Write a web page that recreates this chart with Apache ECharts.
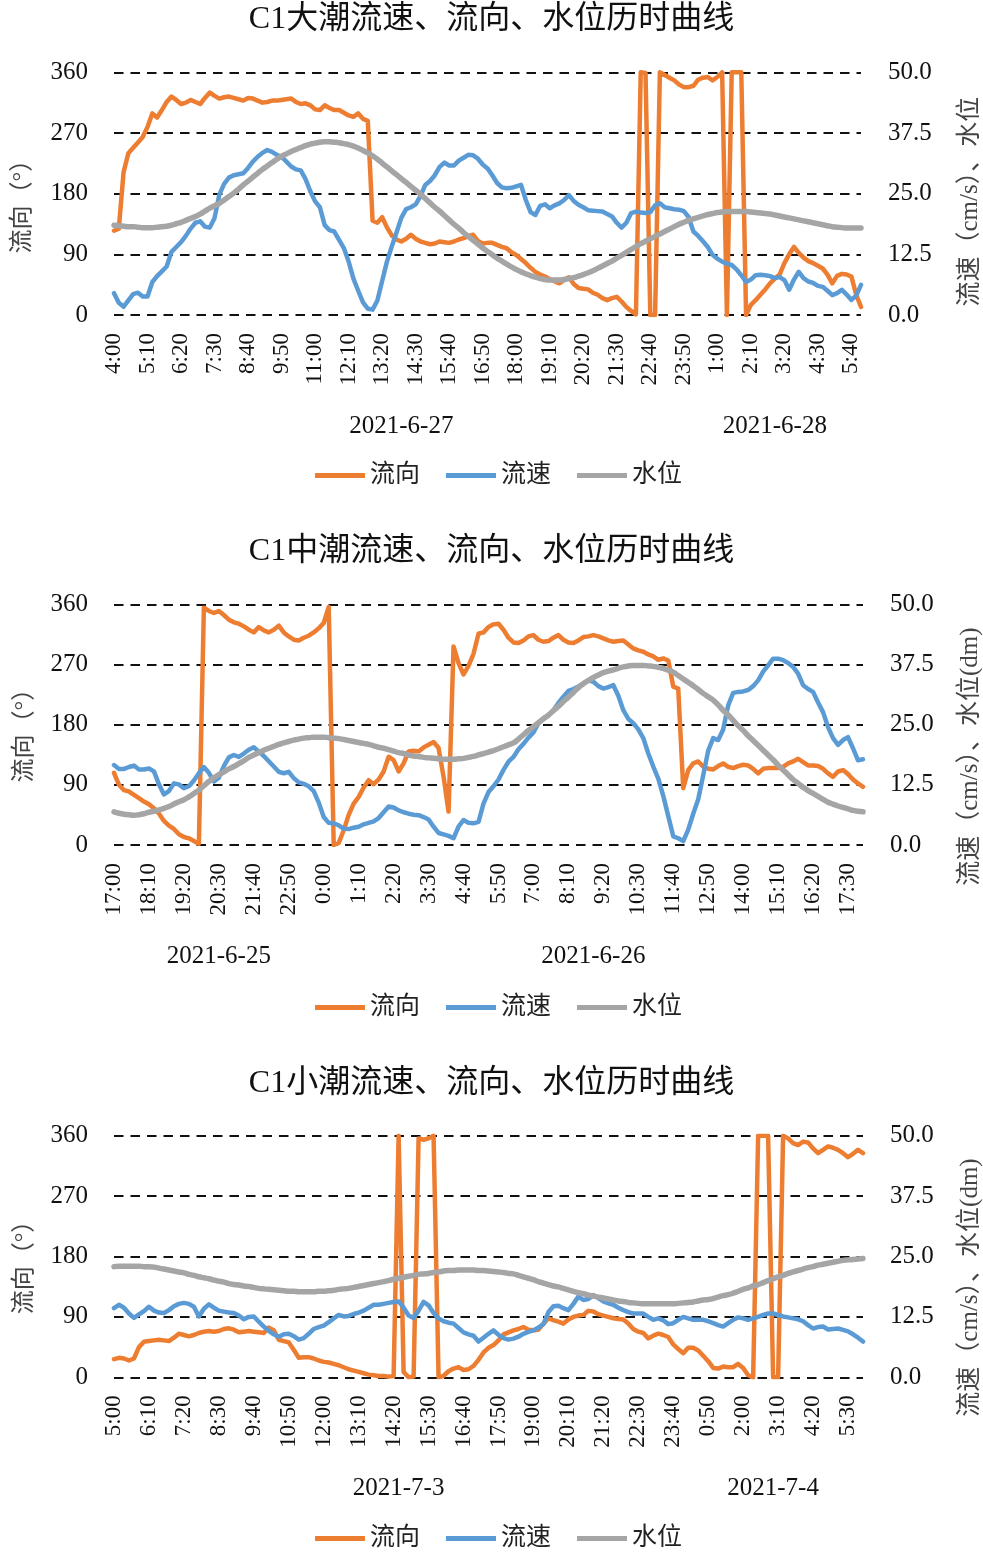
<!DOCTYPE html>
<html><head><meta charset="utf-8">
<script src="https://cdn.jsdelivr.net/npm/echarts@6/dist/echarts.min.js"></script>
<style>html,body{margin:0;padding:0;background:#fff}#c{width:983px;height:1552px}</style>
</head><body><div id="c"></div>
<script>
// ---------- categories ----------
function makeTimes(h, m, n) {
  const a = []; let t = h * 60 + m;
  for (let i = 0; i < n; i++) { const d = t % 1440; a.push(Math.floor(d / 60) + ':' + String(d % 60).padStart(2, '0')); t += 10; }
  return a;
}
const times1 = makeTimes(4, 0, 157);
const times2 = makeTimes(17, 0, 151);
const times3 = makeTimes(5, 0, 151);
const dates1 = ['2021-6-27', '2021-6-28'];
const dates2 = ['2021-6-25', '2021-6-26'];
const dates3 = ['2021-7-3', '2021-7-4'];
const leftTicks = [0, 90, 180, 270, 360];
const rightTicks = [0, 12.5, 25, 37.5, 50];

// ---------- chart 1: 大潮 ----------
const dir1 = [125,128,212,240,248,256,264,279,299,293,304,316,324,319,313,315,319,316,313,322,
330,325,321,323,324,322,320,318,322,321,318,315,316,318,318,319,320,321,316,313,
314,311,305,304,311,307,304,304,300,296,294,299,291,288,140,137,145,130,118,112,
109,113,119,113,109,107,105,106,109,108,107,109,112,114,117,119,110,106,107,107,
104,101,99,93,89,83,77,70,64,60,57,53,50,47,52,56,46,40,39,38,
33,30,25,22,25,27,20,12,6,1,360,359,0,0,360,356,352,348,342,338,
338,340,349,352,353,348,353,360,0,360,360,360,0,15,22,30,38,47,54,60,
77,90,101,92,85,80,77,73,69,60,47,58,61,60,57,30,12];
const spd1 = [4.5,2.5,1.7,3.0,4.3,4.6,3.8,3.8,6.8,8.0,9.0,10.0,13.0,14.0,15.0,16.3,17.8,19.0,19.3,18.2,
18.0,20.0,24.8,27.0,28.3,28.8,29.0,29.2,30.3,31.6,32.6,33.4,34.0,33.6,33.0,32.6,31.6,30.6,30.0,29.8,
28.0,25.5,23.4,22.2,18.5,17.5,17.2,15.5,13.8,11.0,7.5,5.0,2.6,1.3,1.1,3.0,7.0,11.0,14.1,17.0,
20.0,21.8,22.2,22.8,24.5,26.8,27.6,28.8,30.5,31.4,30.8,30.8,31.8,32.4,33.0,32.9,32.2,31.0,30.2,28.8,
27.2,26.3,26.1,26.2,26.5,26.8,23.7,21.2,20.6,22.5,22.8,22.0,22.6,23.0,23.7,24.7,23.5,22.7,22.2,21.6,
21.5,21.4,21.3,20.8,20.3,19.0,18.0,19.0,21.0,21.3,21.1,21.0,21.2,22.6,23.0,22.2,22.0,21.8,21.7,21.4,
20.2,17.2,16.3,15.2,14.0,12.4,11.6,11.0,10.6,10.3,9.4,8.2,6.8,7.3,8.2,8.3,8.2,8.0,7.6,7.8,
7.2,5.2,7.3,8.9,7.6,6.9,6.6,6.0,5.8,5.0,4.1,4.5,5.2,4.2,3.1,4.0,6.2];
const lvl1 = [18.5,18.4,18.3,18.2,18.2,18.1,18.0,18.0,18.0,18.1,18.2,18.3,18.5,18.8,19.1,19.5,19.9,20.3,20.8,21.4,
22.0,22.5,23.0,23.7,24.4,25.1,25.9,26.8,27.6,28.4,29.2,30.0,30.7,31.4,32.1,32.7,33.2,33.7,34.1,34.5,
34.9,35.2,35.4,35.6,35.7,35.7,35.6,35.5,35.3,35.1,34.8,34.4,33.9,33.4,32.8,32.1,31.3,30.5,29.7,28.9,
28.1,27.3,26.5,25.7,24.9,24.0,23.1,22.2,21.4,20.5,19.6,18.7,17.9,17.0,16.2,15.4,14.6,13.8,13.1,12.4,
11.7,11.1,10.5,9.9,9.4,8.9,8.5,8.1,7.8,7.5,7.3,7.2,7.2,7.2,7.3,7.5,7.7,8.0,8.3,8.7,
9.1,9.6,10.1,10.6,11.1,11.7,12.3,12.9,13.5,14.1,14.7,15.2,15.7,16.2,16.7,17.2,17.7,18.2,18.7,19.1,
19.5,19.8,20.1,20.4,20.7,20.9,21.1,21.2,21.3,21.3,21.3,21.3,21.3,21.2,21.1,21.0,20.9,20.8,20.6,20.4,
20.2,20.0,19.8,19.6,19.4,19.2,19.0,18.8,18.6,18.4,18.2,18.1,18.0,17.9,17.9,17.9,17.9];

// ---------- chart 2: 中潮 ----------
const dir2 = [108,90,82,80,75,70,65,61,55,47,36,29,24,16,12,10,6,2,355,350,
347,350,344,337,333,331,327,322,318,326,321,318,322,328,318,312,307,306,310,313,
318,324,332,356,0,3,22,45,62,72,86,97,91,98,110,132,127,110,122,140,
141,140,146,150,154,145,102,50,297,272,255,268,286,316,318,326,330,331,322,310,
303,302,306,312,314,307,304,305,310,314,307,303,302,306,311,312,314,312,309,306,
304,305,306,300,294,291,289,285,282,277,279,276,237,234,85,112,122,125,117,114,
113,118,122,117,115,118,120,119,114,107,114,115,115,115,117,122,125,129,124,119,
119,118,114,107,102,110,112,106,98,92,87];
const spd2 = [16.6,15.8,15.8,16.2,16.5,15.7,15.7,15.9,15.3,12.6,10.5,11.2,12.8,12.6,11.8,12.2,13.4,14.9,16.2,15.0,
13.2,14.0,16.4,18.2,18.7,18.3,19.0,19.8,20.3,19.4,18.5,17.4,16.3,15.2,14.9,15.2,13.9,13.0,12.7,12.2,
11.2,8.8,5.8,4.6,4.5,4.1,3.4,3.3,3.6,3.8,4.3,4.6,4.9,5.6,6.8,8.0,7.8,7.2,6.8,6.5,
6.3,6.2,5.8,5.3,3.8,2.5,2.2,1.9,1.4,3.8,5.2,4.6,4.5,4.8,8.6,11.0,12.2,13.6,15.6,17.3,
18.3,19.9,21.0,22.3,23.4,25.3,26.3,26.9,28.0,29.5,30.8,32.0,32.4,32.9,33.6,34.2,33.9,33.0,32.5,32.8,
33.2,31.0,28.0,26.2,25.3,24.0,22.2,19.0,16.3,13.8,10.2,6.0,1.8,1.4,0.8,3.2,6.5,9.5,14.5,19.6,
22.2,21.8,24.0,29.0,31.6,31.8,31.9,32.2,33.0,34.2,36.0,37.3,38.7,38.7,38.4,37.8,37.0,35.6,33.2,32.4,
31.8,29.6,27.6,24.5,22.2,20.8,21.8,22.4,20.1,17.6,17.8];
const lvl2 = [6.9,6.6,6.4,6.3,6.2,6.3,6.5,6.8,7.0,7.3,7.6,8.0,8.5,9.0,9.4,10.0,10.7,11.4,12.3,13.2,
14.0,14.6,15.2,15.8,16.3,16.9,17.5,18.2,18.7,19.2,19.7,20.1,20.5,20.9,21.2,21.5,21.8,22.0,22.2,22.3,
22.4,22.4,22.4,22.3,22.2,22.1,21.9,21.7,21.5,21.3,21.1,20.9,20.6,20.3,20.1,19.8,19.5,19.2,19.0,18.7,
18.5,18.4,18.2,18.1,18.0,17.9,17.8,17.8,17.8,17.9,18.0,18.2,18.4,18.7,19.0,19.3,19.6,20.0,20.4,20.8,
21.2,22.0,22.9,23.8,24.6,25.4,26.2,27.0,27.9,28.8,29.8,30.7,31.7,32.7,33.5,34.2,34.8,35.3,35.8,36.1,
36.4,36.7,37.0,37.2,37.3,37.3,37.3,37.2,37.1,36.9,36.7,36.3,35.9,35.2,34.5,33.8,33.1,32.3,31.5,30.8,
30.1,29.1,28.0,27.0,25.9,24.8,23.8,22.7,21.7,20.7,19.7,18.7,17.7,16.6,15.6,14.6,13.6,12.8,12.0,11.3,
10.7,10.1,9.5,8.9,8.5,8.1,7.8,7.5,7.2,7.0,6.9];

// ---------- chart 3: 小潮 ----------
const dir3 = [27,29,28,25,28,45,53,54,55,56,55,54,59,65,63,61,63,66,68,69,
68,69,72,73,71,67,68,69,68,67,66,74,70,56,54,52,41,29,30,30,
28,25,23,22,20,18,15,12,10,8,6,4,3,2,2,1,2,360,8,0,
1,356,354,356,360,0,2,9,13,15,11,12,17,26,37,44,48,55,64,67,
70,72,75,71,70,71,80,88,85,83,80,86,90,92,93,99,98,94,92,90,
88,87,86,80,72,68,66,58,62,65,63,60,49,42,36,44,44,40,32,24,
14,13,16,15,15,20,14,3,0,360,360,360,0,0,360,356,349,346,351,350,
341,334,339,344,342,339,334,328,333,339,334];
const spd3 = [14.3,15.0,14.4,13.2,12.3,13.0,13.7,14.6,13.8,13.4,13.3,13.9,14.7,15.2,15.4,15.2,14.6,12.6,14.2,15.1,
14.4,13.8,13.6,13.4,13.3,12.8,12.0,12.5,12.6,11.5,10.5,9.6,8.9,8.4,8.9,9.0,8.5,7.8,8.1,9.0,
10.0,10.4,10.7,11.4,12.2,12.9,12.6,12.7,13.1,13.4,13.8,14.4,15.0,15.0,15.2,15.4,15.6,15.7,14.4,12.8,
12.3,13.8,15.6,14.9,13.3,12.2,11.6,11.3,11.1,10.2,9.3,8.9,8.6,7.4,8.2,9.0,9.7,8.8,8.1,7.8,
8.0,8.4,9.0,9.4,9.7,10.3,11.0,13.5,14.7,14.8,14.3,13.9,15.2,16.7,16.0,16.2,17.0,16.4,15.7,15.3,
15.0,14.4,13.9,13.5,13.2,13.2,13.2,12.5,11.9,12.2,11.8,11.0,11.2,11.9,12.5,12.2,11.9,11.9,11.9,11.6,
11.2,10.8,10.5,11.2,11.9,12.4,12.2,11.9,12.2,12.5,12.9,13.2,13.2,12.9,12.6,12.4,12.2,12.0,11.6,10.8,
10.1,10.4,10.5,9.9,10.0,10.1,9.8,9.5,8.9,8.2,7.4];
const lvl3 = [22.9,23.0,23.0,23.0,23.0,23.0,22.9,22.9,22.8,22.6,22.4,22.2,22.0,21.8,21.6,21.3,21.1,20.8,20.6,20.4,
20.1,19.9,19.7,19.4,19.2,19.1,18.9,18.8,18.6,18.4,18.3,18.2,18.1,18.0,17.9,17.8,17.8,17.7,17.7,17.7,
17.7,17.8,17.8,17.9,18.0,18.2,18.3,18.4,18.6,18.8,19.0,19.2,19.4,19.6,19.8,20.0,20.3,20.5,20.7,20.9,
21.1,21.3,21.4,21.5,21.7,21.8,22.0,22.1,22.1,22.2,22.2,22.2,22.2,22.1,22.1,22.0,21.9,21.8,21.7,21.5,
21.4,21.1,20.8,20.5,20.2,19.8,19.5,19.2,18.9,18.7,18.4,18.1,17.8,17.5,17.3,17.0,16.8,16.6,16.4,16.2,
16.0,15.8,15.7,15.5,15.4,15.3,15.2,15.2,15.2,15.2,15.2,15.2,15.2,15.3,15.4,15.5,15.6,15.8,16.0,16.1,
16.3,16.6,16.9,17.1,17.4,17.8,18.2,18.5,18.9,19.2,19.6,20.0,20.4,20.8,21.1,21.5,21.8,22.1,22.4,22.7,
22.9,23.2,23.4,23.6,23.8,24.0,24.2,24.3,24.4,24.5,24.6];

// ---------- layout ----------
const FONT = '"Liberation Serif", "Times New Roman", "Noto Sans CJK SC", serif';
const COLORS = ['#ED7D31', '#5B9BD5', '#A5A5A5'];
const NAMES = ['流向', '流速', '水位'];
const charts = [
  { title: 'C1大潮流速、流向、水位历时曲线', times: times1, dates: dates1, dir: dir1, spd: spd1, lvl: lvl1,
    rightName: '流速（cm/s）、水位', grid: { left: 114, top: 72.3, width: 747, height: 242.7 },
    titleTop: 4, legendTop: 463, rPad: 16, lPad: 14, rGap: 97, lGap: 79 },
  { title: 'C1中潮流速、流向、水位历时曲线', times: times2, dates: dates2, dir: dir2, spd: spd2, lvl: lvl2,
    rightName: '流速（cm/s）、水位(dm)', grid: { left: 114, top: 604.3, width: 749, height: 240.7 },
    titleTop: 536, legendTop: 995, rPad: 64, lPad: 10, rGap: 95, lGap: 77 },
  { title: 'C1小潮流速、流向、水位历时曲线', times: times3, dates: dates3, dir: dir3, spd: spd3, lvl: lvl3,
    rightName: '流速（cm/s）、水位(dm)', grid: { left: 114, top: 1135.7, width: 749, height: 241.6 },
    titleTop: 1068, legendTop: 1526, rPad: 62, lPad: 10, rGap: 95, lGap: 77 }
];

const option = { animation: false, backgroundColor: '#fff', title: [], legend: [], grid: [], xAxis: [], yAxis: [], series: [] };

charts.forEach((c, k) => {
  const split = c.times.indexOf('0:00');
  const n = c.times.length;
  const centers = [Math.round((split - 1) / 2), Math.round((split + n - 1) / 2)];
  option.title.push({ text: c.title, left: 'center', top: c.titleTop, padding: 0,
    textStyle: { fontSize: 32, fontWeight: 'normal', color: '#111', fontFamily: FONT } });
  option.legend.push({ data: NAMES, top: c.legendTop, left: 315, padding: 0, icon: 'rect',
    itemWidth: 50, itemHeight: 5, itemGap: 26, selectedMode: false,
    textStyle: { fontSize: 25, color: '#222', fontFamily: FONT } });
  option.grid.push(Object.assign({ outerBoundsMode: 'none', containLabel: false }, c.grid));
  option.xAxis.push({
    gridIndex: k, type: 'category', boundaryGap: false, data: c.times,
    axisLine: { show: false }, axisTick: { show: false }, splitLine: { show: false },
    axisLabel: { interval: 6, rotate: 90, margin: 18, fontSize: 23, color: '#111', fontFamily: FONT }
  });
  option.xAxis.push({
    gridIndex: k, type: 'category', boundaryGap: false, data: c.times, position: 'bottom', offset: 99,
    axisLine: { show: false }, axisTick: { show: false }, splitLine: { show: false },
    axisLabel: { interval: (i) => i === centers[0] || i === centers[1], margin: 0, fontSize: 25,
      color: '#111', fontFamily: FONT,
      formatter: (v, i) => (i === centers[0] ? c.dates[0] : c.dates[1]) }
  });
  option.yAxis.push({
    gridIndex: k, type: 'value', position: 'left', min: leftTicks[0], max: leftTicks[leftTicks.length - 1], interval: leftTicks[1] - leftTicks[0],
    name: '流向（°）', nameLocation: 'middle', nameRotate: 90, nameGap: c.lGap,
    nameTextStyle: { fontSize: 24, color: '#444', fontFamily: FONT, padding: [0, c.lPad, 0, 0] },
    axisLine: { show: false }, axisTick: { show: false },
    axisLabel: { margin: 26, fontSize: 25, color: '#111', fontFamily: FONT },
    splitLine: { show: true, lineStyle: { color: '#111', width: 2, type: [9.5, 7] } }
  });
  option.yAxis.push({
    gridIndex: k, type: 'value', position: 'right', min: rightTicks[0], max: rightTicks[rightTicks.length - 1], interval: rightTicks[1] - rightTicks[0],
    name: c.rightName, nameLocation: 'middle', nameRotate: 90, nameGap: c.rGap,
    nameTextStyle: { fontSize: 25, color: '#444', fontFamily: FONT, padding: [0, c.rPad, 0, 0] },
    axisLine: { show: false }, axisTick: { show: false }, splitLine: { show: false },
    axisLabel: { margin: 27, fontSize: 25, color: '#111', fontFamily: FONT, formatter: (v) => v.toFixed(1) }
  });
  const sets = [c.dir, c.spd, c.lvl];
  sets.forEach((d, j) => {
    option.series.push({
      name: NAMES[j], type: 'line', xAxisIndex: 2 * k, yAxisIndex: j === 0 ? 2 * k : 2 * k + 1,
      data: d, symbol: 'none', showSymbol: false, smooth: j === 2, z: 2 + j,
      itemStyle: { color: COLORS[j] },
      lineStyle: { color: COLORS[j], width: j === 2 ? 5.5 : 4.5, cap: 'round', join: 'round' }
    });
  });
});

const chart = echarts.init(document.getElementById('c'), null, { renderer: 'canvas' });
chart.setOption(option);
</script></body></html>
